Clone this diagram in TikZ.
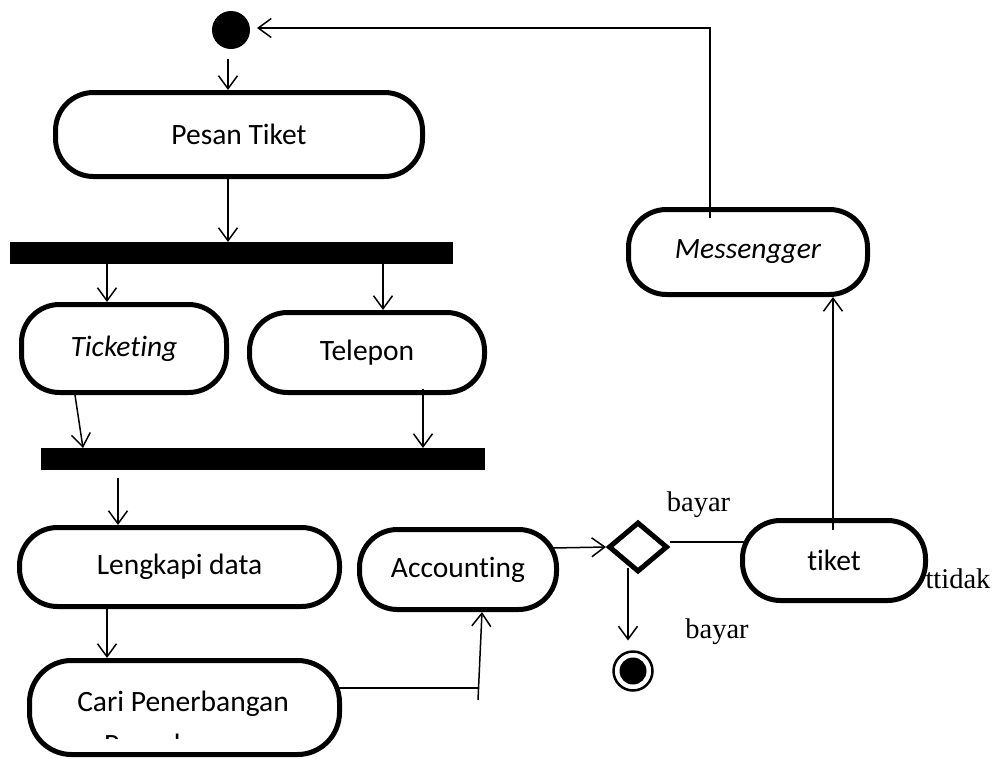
\documentclass[tikz,border=0pt]{standalone}
\usepackage{fontspec}
\setmainfont{Carlito}[Ligatures=NoCommon]
\newfontfamily\serifnote{Liberation Serif}
\usetikzlibrary{arrows.meta,shapes.geometric,calc}

\begin{document}
\begin{tikzpicture}[x=1pt,y=-1pt,
  act/.style={draw, line width=5pt, rounded corners=38pt, inner sep=0pt,
              font=\fontsize{29.5}{35}\selectfont},
  bar/.style={fill=black, inner sep=0pt, outer sep=0pt},
  arr/.style={line width=1.5pt, -{Straight Barb[length=13pt,width=19pt]}},
  link/.style={line width=1.5pt},
  note/.style={inner sep=0pt, font=\serifnote\fontsize{28.5}{34}\selectfont}]

\useasboundingbox (0,0) rectangle (999,758);

% initial and final states
\node[circle, fill=black, minimum size=38pt, inner sep=0pt, outer sep=0pt] (start) at (231,30) {};
\node[circle, draw, line width=2.5pt, minimum size=39pt, inner sep=0pt, outer sep=0pt] (finish) at (633,671) {};
\node[circle, fill=black, minimum size=27pt, inner sep=0pt] (finishdot) at (finish) {};

% activities
\node[act, minimum width=367pt, minimum height=84pt] (pesan) at (239,134.5) {Pesan Tiket};
\node[act, minimum width=205pt, minimum height=88pt] (ticketing) at (124,348.5) {\itshape Ticketing};
\node[act, minimum width=235pt, minimum height=80pt] (telepon) at (367,352.5) {Telepon};
\node[act, minimum width=320pt, minimum height=79pt] (lengkapi) at (179.5,567) {Lengkapi data};
\node[act, minimum width=310pt, minimum height=94pt, rounded corners=42pt] (cari) at (184.5,707.5) {};
\node[act, minimum width=197pt, minimum height=80pt] (accounting) at (458,569.5) {Accounting};
\node[act, minimum width=183pt, minimum height=80pt] (tiket) at (834,560.5) {tiket};
\node[act, minimum width=239pt, minimum height=85pt] (mess) at (748,252) {\itshape Messengger};

% text of the last activity, its second line hidden below the cut
\begin{scope}
  \clip (0,0) rectangle (999,738);
  \node[anchor=base, inner sep=0pt, font=\fontsize{29.5}{35}\selectfont] (caritop) at (183,711) {Cari Penerbangan};
  \node[anchor=base, inner sep=0pt, font=\fontsize{29.5}{35}\selectfont] (caribot) at (183,754) {Penerbangan};
\end{scope}

% fork and join bars
\node[bar, minimum width=443pt, minimum height=22pt] (bar1) at (231.5,253) {};
\node[bar, minimum width=444pt, minimum height=22pt] (bar2) at (263,459) {};

% decision
\node[diamond, draw, line width=5pt, minimum width=59pt, minimum height=50pt, inner sep=0pt] (dec) at (638,547) {};

% guard labels
\node[note, anchor=base] (bayartop) at (698.5,511) {bayar};
\node[note, anchor=base] (bayarbot) at (717,638) {bayar};
\node[note, anchor=base] (ttidak) at (958,588) {ttidak};

% control flow
\draw[arr] ($(start.south)+(-3,10)$) -- ($(pesan.north)+(-11,0)$);
\draw[arr] ($(pesan.south)+(-11,0)$) -- ($(bar1.north)+(-3.5,0)$);
\draw[arr] ($(bar1.south)+(-124.5,0)$) -- ($(ticketing.north)+(-17,0)$);
\draw[arr] ($(bar1.south)+(151.5,0)$) -- ($(telepon.north)+(16,0)$);
\draw[arr] ($(ticketing.south)+(-49,0)$) -- ($(bar2.north)+(-180,0)$);
\draw[arr] ($(telepon.south)+(56,-6)$) -- ($(bar2.north)+(160,0)$);
\draw[arr] ($(bar2.south)+(-145,8)$) -- ($(lengkapi.north)+(-61.5,0)$);
\draw[arr] ($(lengkapi.south)+(-72.5,-4)$) -- ($(cari.north)+(-77.5,0)$);

\coordinate (bend) at (478,688);
\coordinate (rise) at (478,700);
\draw[link] ($(cari.east)+(-4,-19.5)$) -- (bend);
\draw[arr] (rise) -- ($(accounting.south)+(24,0)$);

\draw[arr] ($(accounting.east)+(-6,-21.5)$) -- (dec.west);
\draw[arr] ($(dec.south)+(-10,-7)$) -- ($(finish.north)+(-5,-11)$);
\draw[link] ($(dec.east)+(0,-5)$) -- ($(tiket.west)+(5,-18.5)$);
\draw[arr] ($(tiket.north)+(-1,12)$) -- ($(mess.south)+(85,0)$);
\draw[arr] ($(mess.north)+(-38,11)$) |- ($(start.east)+(7,-2)$);

\end{tikzpicture}
\end{document}
